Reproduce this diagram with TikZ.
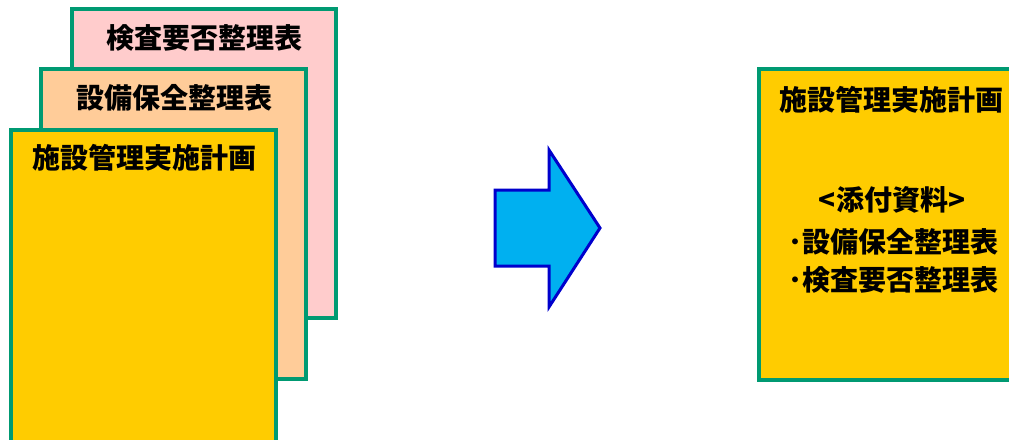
\documentclass[tikz,border=0pt]{standalone}
\usepackage{fontspec}
\newfontfamily\cjk{Noto Sans CJK JP}[BoldFont={Noto Sans CJK JP Black}]
\definecolor{docgreen}{HTML}{009A72}
\definecolor{pinkfill}{HTML}{FFCCCC}
\definecolor{peachfill}{HTML}{FFCC99}
\definecolor{yellowfill}{HTML}{FFCC00}
\definecolor{arrowfill}{HTML}{00B0F0}
\definecolor{arrowline}{HTML}{0000CC}
\tikzset{
  sheet/.style={draw=docgreen, line width=4pt, anchor=north west, inner sep=0pt, outer sep=0pt},
  lbl/.style={font=\cjk\bfseries\fontsize{28pt}{32pt}\selectfont, inner sep=0pt, text=black},
}
\begin{document}
\begin{tikzpicture}[x=1pt,y=-1pt]
\useasboundingbox (0,0) rectangle (1009,439);
\clip (0,0) rectangle (1009,439);
% stacked sheets
\node[sheet, fill=pinkfill, minimum width=264pt, minimum height=309pt] (back) at (72,9) {};
\node[sheet, fill=peachfill, minimum width=265pt, minimum height=310pt] (mid) at (41,69) {};
\node[sheet, fill=yellowfill, minimum width=265pt, minimum height=340pt] (front) at (11,130) {};
\node[lbl] (tback) at (204,38) {検査要否整理表};
\node[lbl] (tmid) at (174,98) {設備保全整理表};
\node[lbl] (tfront) at (144,158) {施設管理実施計画};
% arrow
\draw[draw=arrowline, fill=arrowfill, line width=3pt, line join=miter]
  (495,190) -- (549,190) -- (549,150) -- (600,228) -- (549,307) -- (549,266) -- (495,266) -- cycle;
% result sheet
\node[sheet, fill=yellowfill, minimum width=300pt, minimum height=311pt] (result) at (759,69) {};
\node[lbl] (rt1) at (891,100) {施設管理実施計画};
\node[lbl] (rt2) at (892,200) {<添付資料>};
\node[lbl] (rt3) at (893,242) {･設備保全整理表};
\node[lbl] (rt4) at (893,280) {･検査要否整理表};
\end{tikzpicture}
\end{document}
